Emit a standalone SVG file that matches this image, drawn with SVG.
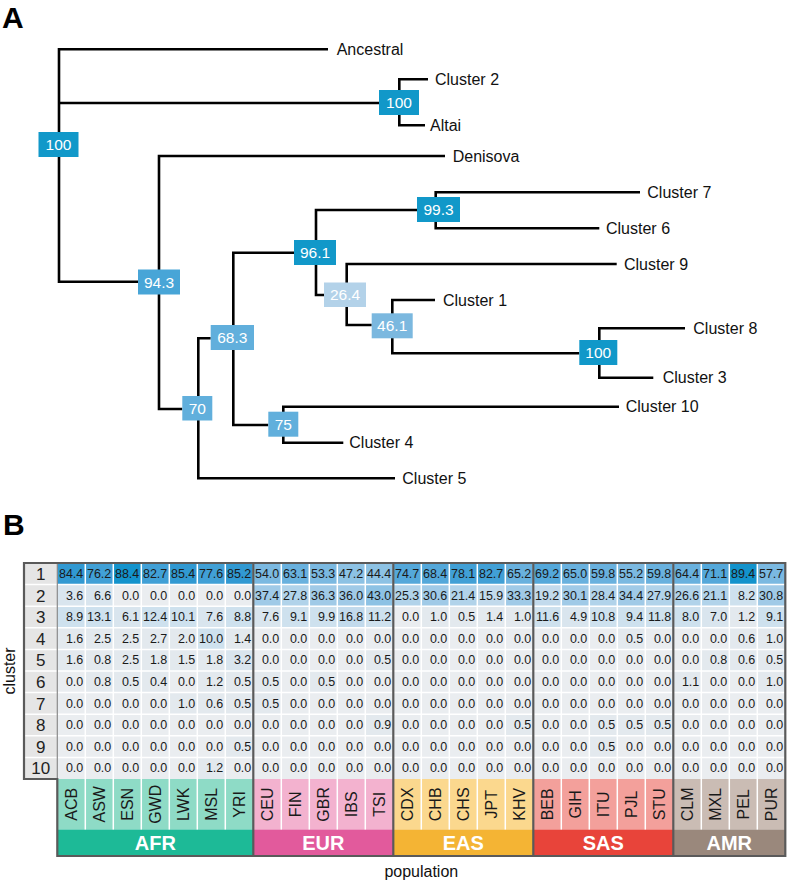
<svg xmlns="http://www.w3.org/2000/svg" width="788" height="882" viewBox="0 0 788 882">
<style>
text{font-family:"Liberation Sans",Arial,Helvetica,sans-serif;fill:#111}
.ln{stroke:#000;stroke-width:2.6;fill:none;stroke-linejoin:miter}
.leaf{font-size:16px}
.bx text{font-size:15.5px;fill:#fff;text-anchor:middle}
.dk{fill:#1198c9}.m1{fill:#48a5d7}.m2{fill:#61afdc}.m3{fill:#7bb8df}.lt{fill:#b3d2e9}
.panel{font-size:30px;font-weight:bold;fill:#000}
.c1{fill:#e3e9ee}.c2{fill:#d9e5ee}.c3{fill:#cee1ee}.c4{fill:#c2daec}.c5{fill:#b1d3ea}.c6{fill:#a0cae7}.c7{fill:#8dc2e4}.c8{fill:#7bb9e1}.c9{fill:#69b1de}.c10{fill:#54a8da}.c11{fill:#41a0d6}.c12{fill:#3199d2}.c13{fill:#1393cc}
.val{font-size:12.5px;text-anchor:end;fill:#1a1a1a}
.rl{font-size:17px;text-anchor:middle;fill:#222}
.grid{stroke:#fff;stroke-width:1.5}
.pop{font-size:16px;text-anchor:middle;fill:#1a1a1a}
.grp{font-size:20px;font-weight:bold;fill:#fff;text-anchor:middle}
.bd{stroke:#5a5a5a;stroke-width:2.2;fill:none}
.axis{font-size:16px;text-anchor:middle;fill:#111}
</style>

<text class="panel" x="2" y="28">A</text>
<text class="panel" x="3" y="535">B</text>

<g id="connectors">
<path class="ln" d="M328,49.3 H59 V281.7 H138"/>
<path class="ln" d="M59,103 H379"/>
<path class="ln" d="M428,79.3 H399.3 V125.3 H425"/>
<path class="ln" d="M445,156 H159 V409 H182.3"/>
<path class="ln" d="M395,478.3 H198.3 V338.3 H210.7"/>
<path class="ln" d="M294,252.7 H233.3 V425 H268.3"/>
<path class="ln" d="M619,406.7 H283.3 V442.7 H343.3"/>
<path class="ln" d="M417.3,210 H316 V295 H324"/>
<path class="ln" d="M640,192.3 H435.7 V228.3 H599.3"/>
<path class="ln" d="M616.7,264 H346.7 V325 H371.7"/>
<path class="ln" d="M435,300 H392.3 V353.3 H579.3"/>
<path class="ln" d="M685,328.3 H599.3 V377.7 H653.3"/>
</g>

<g id="node-root" class="bx"><rect class="dk" x="38.5" y="132" width="40" height="25"/><text x="58.5" y="150">100</text></g>
<g id="node-neand" class="bx"><rect class="dk" x="379" y="90" width="40" height="25"/><text x="399" y="108">100</text></g>
<g id="node-94" class="bx"><rect class="m1" x="138" y="269.5" width="42" height="25"/><text x="159" y="287.5">94.3</text></g>
<g id="node-99" class="bx"><rect class="dk" x="417" y="197" width="43" height="25"/><text x="438.5" y="215">99.3</text></g>
<g id="node-96" class="bx"><rect class="dk" x="294" y="240" width="42" height="25"/><text x="315" y="258">96.1</text></g>
<g id="node-26" class="bx"><rect class="lt" x="324" y="282.5" width="42" height="24.5"/><text x="345" y="300.3">26.4</text></g>
<g id="node-46" class="bx"><rect class="m3" x="371.7" y="313.3" width="41" height="25"/><text x="392.2" y="331.3">46.1</text></g>
<g id="node-68" class="bx"><rect class="m2" x="210.7" y="325" width="43.3" height="25"/><text x="232.3" y="343">68.3</text></g>
<g id="node-70" class="bx"><rect class="m2" x="182.3" y="396" width="30" height="24.5"/><text x="197.3" y="413.8">70</text></g>
<g id="node-75" class="bx"><rect class="m2" x="268.3" y="411.7" width="30" height="25"/><text x="283.3" y="429.7">75</text></g>
<g id="node-100b" class="bx"><rect class="dk" x="579.3" y="340" width="38" height="25"/><text x="598.3" y="358">100</text></g>

<g id="leaf-ancestral"><text class="leaf" x="336.7" y="55">Ancestral</text></g>
<g id="leaf-c2"><text class="leaf" x="435" y="85">Cluster 2</text></g>
<g id="leaf-altai"><text class="leaf" x="430" y="131">Altai</text></g>
<g id="leaf-denisova"><text class="leaf" x="452.7" y="161.7">Denisova</text></g>
<g id="leaf-c7"><text class="leaf" x="647.3" y="198">Cluster 7</text></g>
<g id="leaf-c6"><text class="leaf" x="606" y="234">Cluster 6</text></g>
<g id="leaf-c9"><text class="leaf" x="624" y="269.7">Cluster 9</text></g>
<g id="leaf-c1"><text class="leaf" x="443" y="305.7">Cluster 1</text></g>
<g id="leaf-c8"><text class="leaf" x="693.3" y="334">Cluster 8</text></g>
<g id="leaf-c3"><text class="leaf" x="662.7" y="383.4">Cluster 3</text></g>
<g id="leaf-c10"><text class="leaf" x="625.7" y="412.4">Cluster 10</text></g>
<g id="leaf-c4"><text class="leaf" x="349.3" y="448.4">Cluster 4</text></g>
<g id="leaf-c5"><text class="leaf" x="402.3" y="484">Cluster 5</text></g>

<!-- Panel B -->
<g id="row-labels">
<rect x="24" y="563" width="33.3" height="216" fill="#e5e5e5"/>
<path class="grid" d="M24,584.6H57.3M24,606.2H57.3M24,627.8H57.3M24,649.4H57.3M24,671H57.3M24,692.6H57.3M24,714.2H57.3M24,735.8H57.3M24,757.4H57.3"/>
<text class="rl" x="40.7" y="579.9">1</text>
<text class="rl" x="40.7" y="601.5">2</text>
<text class="rl" x="40.7" y="623.1">3</text>
<text class="rl" x="40.7" y="644.7">4</text>
<text class="rl" x="40.7" y="666.3">5</text>
<text class="rl" x="40.7" y="687.9">6</text>
<text class="rl" x="40.7" y="709.5">7</text>
<text class="rl" x="40.7" y="731.1">8</text>
<text class="rl" x="40.7" y="752.7">9</text>
<text class="rl" x="40.7" y="774.3">10</text>
</g>

<g id="heatmap" transform="translate(57.3,563)">
<rect x="0" y="0" width="728" height="216" fill="#eaedf0"/>
<g>
<rect class="c12" x="0" y="0" width="28" height="21.6"/><rect class="c11" x="28" y="0" width="28" height="21.6"/><rect class="c13" x="56" y="0" width="28" height="21.6"/><rect class="c11" x="84" y="0" width="28" height="21.6"/><rect class="c12" x="112" y="0" width="28" height="21.6"/><rect class="c11" x="140" y="0" width="28" height="21.6"/><rect class="c12" x="168" y="0" width="28" height="21.6"/><rect class="c8" x="196" y="0" width="28" height="21.6"/><rect class="c9" x="224" y="0" width="28" height="21.6"/><rect class="c8" x="252" y="0" width="28" height="21.6"/><rect class="c7" x="280" y="0" width="28" height="21.6"/><rect class="c7" x="308" y="0" width="28" height="21.6"/><rect class="c10" x="336" y="0" width="28" height="21.6"/><rect class="c10" x="364" y="0" width="28" height="21.6"/><rect class="c11" x="392" y="0" width="28" height="21.6"/><rect class="c11" x="420" y="0" width="28" height="21.6"/><rect class="c9" x="448" y="0" width="28" height="21.6"/><rect class="c10" x="476" y="0" width="28" height="21.6"/><rect class="c9" x="504" y="0" width="28" height="21.6"/><rect class="c9" x="532" y="0" width="28" height="21.6"/><rect class="c8" x="560" y="0" width="28" height="21.6"/><rect class="c9" x="588" y="0" width="28" height="21.6"/><rect class="c9" x="616" y="0" width="28" height="21.6"/><rect class="c10" x="644" y="0" width="28" height="21.6"/><rect class="c13" x="672" y="0" width="28" height="21.6"/><rect class="c8" x="700" y="0" width="28" height="21.6"/>
</g>
<g transform="translate(0,21.6)">
<rect class="c2" x="0" y="0" width="28" height="21.6"/><rect class="c2" x="28" y="0" width="28" height="21.6"/><rect class="c6" x="196" y="0" width="28" height="21.6"/><rect class="c5" x="224" y="0" width="28" height="21.6"/><rect class="c6" x="252" y="0" width="28" height="21.6"/><rect class="c6" x="280" y="0" width="28" height="21.6"/><rect class="c7" x="308" y="0" width="28" height="21.6"/><rect class="c5" x="336" y="0" width="28" height="21.6"/><rect class="c6" x="364" y="0" width="28" height="21.6"/><rect class="c5" x="392" y="0" width="28" height="21.6"/><rect class="c4" x="420" y="0" width="28" height="21.6"/><rect class="c6" x="448" y="0" width="28" height="21.6"/><rect class="c4" x="476" y="0" width="28" height="21.6"/><rect class="c6" x="504" y="0" width="28" height="21.6"/><rect class="c5" x="532" y="0" width="28" height="21.6"/><rect class="c6" x="560" y="0" width="28" height="21.6"/><rect class="c5" x="588" y="0" width="28" height="21.6"/><rect class="c5" x="616" y="0" width="28" height="21.6"/><rect class="c5" x="644" y="0" width="28" height="21.6"/><rect class="c3" x="672" y="0" width="28" height="21.6"/><rect class="c6" x="700" y="0" width="28" height="21.6"/>
</g>
<g transform="translate(0,43.2)">
<rect class="c3" x="0" y="0" width="28" height="21.6"/><rect class="c3" x="28" y="0" width="28" height="21.6"/><rect class="c2" x="56" y="0" width="28" height="21.6"/><rect class="c3" x="84" y="0" width="28" height="21.6"/><rect class="c3" x="112" y="0" width="28" height="21.6"/><rect class="c2" x="140" y="0" width="28" height="21.6"/><rect class="c3" x="168" y="0" width="28" height="21.6"/><rect class="c2" x="196" y="0" width="28" height="21.6"/><rect class="c3" x="224" y="0" width="28" height="21.6"/><rect class="c3" x="252" y="0" width="28" height="21.6"/><rect class="c4" x="280" y="0" width="28" height="21.6"/><rect class="c3" x="308" y="0" width="28" height="21.6"/><rect class="c1" x="364" y="0" width="28" height="21.6"/><rect class="c1" x="392" y="0" width="28" height="21.6"/><rect class="c1" x="420" y="0" width="28" height="21.6"/><rect class="c1" x="448" y="0" width="28" height="21.6"/><rect class="c3" x="476" y="0" width="28" height="21.6"/><rect class="c2" x="504" y="0" width="28" height="21.6"/><rect class="c3" x="532" y="0" width="28" height="21.6"/><rect class="c3" x="560" y="0" width="28" height="21.6"/><rect class="c3" x="588" y="0" width="28" height="21.6"/><rect class="c3" x="616" y="0" width="28" height="21.6"/><rect class="c2" x="644" y="0" width="28" height="21.6"/><rect class="c1" x="672" y="0" width="28" height="21.6"/><rect class="c3" x="700" y="0" width="28" height="21.6"/>
</g>
<g transform="translate(0,64.8)">
<rect class="c1" x="0" y="0" width="140" height="21.6"/><rect class="c3" x="140" y="0" width="28" height="21.6"/><rect class="c1" x="168" y="0" width="28" height="21.6"/><rect class="c1" x="560" y="0" width="28" height="21.6"/><rect class="c1" x="672" y="0" width="56" height="21.6"/>
</g>
<g transform="translate(0,86.4)">
<rect class="c1" x="0" y="0" width="168" height="21.6"/><rect class="c2" x="168" y="0" width="28" height="21.6"/><rect class="c1" x="308" y="0" width="28" height="21.6"/><rect class="c1" x="644" y="0" width="84" height="21.6"/>
</g>
<g transform="translate(0,108)">
<rect class="c1" x="28" y="0" width="84" height="21.6"/><rect class="c1" x="140" y="0" width="84" height="21.6"/><rect class="c1" x="252" y="0" width="28" height="21.6"/><rect class="c1" x="616" y="0" width="28" height="21.6"/><rect class="c1" x="700" y="0" width="28" height="21.6"/>
</g>
<g transform="translate(0,129.6)">
<rect class="c1" x="112" y="0" width="112" height="21.6"/>
</g>
<g transform="translate(0,151.2)">
<rect class="c1" x="308" y="0" width="28" height="21.6"/><rect class="c1" x="448" y="0" width="28" height="21.6"/><rect class="c1" x="532" y="0" width="84" height="21.6"/>
</g>
<g transform="translate(0,172.8)">
<rect class="c1" x="168" y="0" width="28" height="21.6"/><rect class="c1" x="532" y="0" width="28" height="21.6"/>
</g>
<g transform="translate(0,194.4)">
<rect class="c1" x="140" y="0" width="28" height="21.6"/>
</g>
<path class="grid" d="M28,0V216M56,0V216M84,0V216M112,0V216M140,0V216M168,0V216M196,0V216M224,0V216M252,0V216M280,0V216M308,0V216M336,0V216M364,0V216M392,0V216M420,0V216M448,0V216M476,0V216M504,0V216M532,0V216M560,0V216M588,0V216M616,0V216M644,0V216M672,0V216M700,0V216M0,21.6H728M0,43.2H728M0,64.8H728M0,86.4H728M0,108H728M0,129.6H728M0,151.2H728M0,172.8H728M0,194.4H728"/>

<text class="val" y="15"><tspan x="26">84.4</tspan><tspan x="54">76.2</tspan><tspan x="82">88.4</tspan><tspan x="110">82.7</tspan><tspan x="138">85.4</tspan><tspan x="166">77.6</tspan><tspan x="194">85.2</tspan><tspan x="222">54.0</tspan><tspan x="250">63.1</tspan><tspan x="278">53.3</tspan><tspan x="306">47.2</tspan><tspan x="334">44.4</tspan><tspan x="362">74.7</tspan><tspan x="390">68.4</tspan><tspan x="418">78.1</tspan><tspan x="446">82.7</tspan><tspan x="474">65.2</tspan><tspan x="502">69.2</tspan><tspan x="530">65.0</tspan><tspan x="558">59.8</tspan><tspan x="586">55.2</tspan><tspan x="614">59.8</tspan><tspan x="642">64.4</tspan><tspan x="670">71.1</tspan><tspan x="698">89.4</tspan><tspan x="726">57.7</tspan></text>
<text class="val" y="36.6"><tspan x="26">3.6</tspan><tspan x="54">6.6</tspan><tspan x="82">0.0</tspan><tspan x="110">0.0</tspan><tspan x="138">0.0</tspan><tspan x="166">0.0</tspan><tspan x="194">0.0</tspan><tspan x="222">37.4</tspan><tspan x="250">27.8</tspan><tspan x="278">36.3</tspan><tspan x="306">36.0</tspan><tspan x="334">43.0</tspan><tspan x="362">25.3</tspan><tspan x="390">30.6</tspan><tspan x="418">21.4</tspan><tspan x="446">15.9</tspan><tspan x="474">33.3</tspan><tspan x="502">19.2</tspan><tspan x="530">30.1</tspan><tspan x="558">28.4</tspan><tspan x="586">34.4</tspan><tspan x="614">27.9</tspan><tspan x="642">26.6</tspan><tspan x="670">21.1</tspan><tspan x="698">8.2</tspan><tspan x="726">30.8</tspan></text>
<text class="val" y="58.2"><tspan x="26">8.9</tspan><tspan x="54">13.1</tspan><tspan x="82">6.1</tspan><tspan x="110">12.4</tspan><tspan x="138">10.1</tspan><tspan x="166">7.6</tspan><tspan x="194">8.8</tspan><tspan x="222">7.6</tspan><tspan x="250">9.1</tspan><tspan x="278">9.9</tspan><tspan x="306">16.8</tspan><tspan x="334">11.2</tspan><tspan x="362">0.0</tspan><tspan x="390">1.0</tspan><tspan x="418">0.5</tspan><tspan x="446">1.4</tspan><tspan x="474">1.0</tspan><tspan x="502">11.6</tspan><tspan x="530">4.9</tspan><tspan x="558">10.8</tspan><tspan x="586">9.4</tspan><tspan x="614">11.8</tspan><tspan x="642">8.0</tspan><tspan x="670">7.0</tspan><tspan x="698">1.2</tspan><tspan x="726">9.1</tspan></text>
<text class="val" y="79.8"><tspan x="26">1.6</tspan><tspan x="54">2.5</tspan><tspan x="82">2.5</tspan><tspan x="110">2.7</tspan><tspan x="138">2.0</tspan><tspan x="166">10.0</tspan><tspan x="194">1.4</tspan><tspan x="222">0.0</tspan><tspan x="250">0.0</tspan><tspan x="278">0.0</tspan><tspan x="306">0.0</tspan><tspan x="334">0.0</tspan><tspan x="362">0.0</tspan><tspan x="390">0.0</tspan><tspan x="418">0.0</tspan><tspan x="446">0.0</tspan><tspan x="474">0.0</tspan><tspan x="502">0.0</tspan><tspan x="530">0.0</tspan><tspan x="558">0.0</tspan><tspan x="586">0.5</tspan><tspan x="614">0.0</tspan><tspan x="642">0.0</tspan><tspan x="670">0.0</tspan><tspan x="698">0.6</tspan><tspan x="726">1.0</tspan></text>
<text class="val" y="101.4"><tspan x="26">1.6</tspan><tspan x="54">0.8</tspan><tspan x="82">2.5</tspan><tspan x="110">1.8</tspan><tspan x="138">1.5</tspan><tspan x="166">1.8</tspan><tspan x="194">3.2</tspan><tspan x="222">0.0</tspan><tspan x="250">0.0</tspan><tspan x="278">0.0</tspan><tspan x="306">0.0</tspan><tspan x="334">0.5</tspan><tspan x="362">0.0</tspan><tspan x="390">0.0</tspan><tspan x="418">0.0</tspan><tspan x="446">0.0</tspan><tspan x="474">0.0</tspan><tspan x="502">0.0</tspan><tspan x="530">0.0</tspan><tspan x="558">0.0</tspan><tspan x="586">0.0</tspan><tspan x="614">0.0</tspan><tspan x="642">0.0</tspan><tspan x="670">0.8</tspan><tspan x="698">0.6</tspan><tspan x="726">0.5</tspan></text>
<text class="val" y="123"><tspan x="26">0.0</tspan><tspan x="54">0.8</tspan><tspan x="82">0.5</tspan><tspan x="110">0.4</tspan><tspan x="138">0.0</tspan><tspan x="166">1.2</tspan><tspan x="194">0.5</tspan><tspan x="222">0.5</tspan><tspan x="250">0.0</tspan><tspan x="278">0.5</tspan><tspan x="306">0.0</tspan><tspan x="334">0.0</tspan><tspan x="362">0.0</tspan><tspan x="390">0.0</tspan><tspan x="418">0.0</tspan><tspan x="446">0.0</tspan><tspan x="474">0.0</tspan><tspan x="502">0.0</tspan><tspan x="530">0.0</tspan><tspan x="558">0.0</tspan><tspan x="586">0.0</tspan><tspan x="614">0.0</tspan><tspan x="642">1.1</tspan><tspan x="670">0.0</tspan><tspan x="698">0.0</tspan><tspan x="726">1.0</tspan></text>
<text class="val" y="144.6"><tspan x="26">0.0</tspan><tspan x="54">0.0</tspan><tspan x="82">0.0</tspan><tspan x="110">0.0</tspan><tspan x="138">1.0</tspan><tspan x="166">0.6</tspan><tspan x="194">0.5</tspan><tspan x="222">0.5</tspan><tspan x="250">0.0</tspan><tspan x="278">0.0</tspan><tspan x="306">0.0</tspan><tspan x="334">0.0</tspan><tspan x="362">0.0</tspan><tspan x="390">0.0</tspan><tspan x="418">0.0</tspan><tspan x="446">0.0</tspan><tspan x="474">0.0</tspan><tspan x="502">0.0</tspan><tspan x="530">0.0</tspan><tspan x="558">0.0</tspan><tspan x="586">0.0</tspan><tspan x="614">0.0</tspan><tspan x="642">0.0</tspan><tspan x="670">0.0</tspan><tspan x="698">0.0</tspan><tspan x="726">0.0</tspan></text>
<text class="val" y="166.2"><tspan x="26">0.0</tspan><tspan x="54">0.0</tspan><tspan x="82">0.0</tspan><tspan x="110">0.0</tspan><tspan x="138">0.0</tspan><tspan x="166">0.0</tspan><tspan x="194">0.0</tspan><tspan x="222">0.0</tspan><tspan x="250">0.0</tspan><tspan x="278">0.0</tspan><tspan x="306">0.0</tspan><tspan x="334">0.9</tspan><tspan x="362">0.0</tspan><tspan x="390">0.0</tspan><tspan x="418">0.0</tspan><tspan x="446">0.0</tspan><tspan x="474">0.5</tspan><tspan x="502">0.0</tspan><tspan x="530">0.0</tspan><tspan x="558">0.5</tspan><tspan x="586">0.5</tspan><tspan x="614">0.5</tspan><tspan x="642">0.0</tspan><tspan x="670">0.0</tspan><tspan x="698">0.0</tspan><tspan x="726">0.0</tspan></text>
<text class="val" y="187.8"><tspan x="26">0.0</tspan><tspan x="54">0.0</tspan><tspan x="82">0.0</tspan><tspan x="110">0.0</tspan><tspan x="138">0.0</tspan><tspan x="166">0.0</tspan><tspan x="194">0.5</tspan><tspan x="222">0.0</tspan><tspan x="250">0.0</tspan><tspan x="278">0.0</tspan><tspan x="306">0.0</tspan><tspan x="334">0.0</tspan><tspan x="362">0.0</tspan><tspan x="390">0.0</tspan><tspan x="418">0.0</tspan><tspan x="446">0.0</tspan><tspan x="474">0.0</tspan><tspan x="502">0.0</tspan><tspan x="530">0.0</tspan><tspan x="558">0.5</tspan><tspan x="586">0.0</tspan><tspan x="614">0.0</tspan><tspan x="642">0.0</tspan><tspan x="670">0.0</tspan><tspan x="698">0.0</tspan><tspan x="726">0.0</tspan></text>
<text class="val" y="209.4"><tspan x="26">0.0</tspan><tspan x="54">0.0</tspan><tspan x="82">0.0</tspan><tspan x="110">0.0</tspan><tspan x="138">0.0</tspan><tspan x="166">1.2</tspan><tspan x="194">0.0</tspan><tspan x="222">0.0</tspan><tspan x="250">0.0</tspan><tspan x="278">0.0</tspan><tspan x="306">0.0</tspan><tspan x="334">0.0</tspan><tspan x="362">0.0</tspan><tspan x="390">0.0</tspan><tspan x="418">0.0</tspan><tspan x="446">0.0</tspan><tspan x="474">0.0</tspan><tspan x="502">0.0</tspan><tspan x="530">0.0</tspan><tspan x="558">0.0</tspan><tspan x="586">0.0</tspan><tspan x="614">0.0</tspan><tspan x="642">0.0</tspan><tspan x="670">0.0</tspan><tspan x="698">0.0</tspan><tspan x="726">0.0</tspan></text>

<!-- population labels -->
<g id="grp-AFR">
<rect x="0" y="216" width="196" height="50.5" fill="#8edbc6"/>
<rect x="0" y="266.5" width="196" height="26.5" fill="#1dba97"/>
<text class="grp" x="98" y="287">AFR</text>
</g>
<g id="grp-EUR">
<rect x="196" y="216" width="140" height="50.5" fill="#f3b2cf"/>
<rect x="196" y="266.5" width="140" height="26.5" fill="#e25a9c"/>
<text class="grp" x="266" y="287">EUR</text>
</g>
<g id="grp-EAS">
<rect x="336" y="216" width="140" height="50.5" fill="#fbd88e"/>
<rect x="336" y="266.5" width="140" height="26.5" fill="#f4b434"/>
<text class="grp" x="406" y="287">EAS</text>
</g>
<g id="grp-SAS">
<rect x="476" y="216" width="140" height="50.5" fill="#f3a09b"/>
<rect x="476" y="266.5" width="140" height="26.5" fill="#e8443a"/>
<text class="grp" x="546" y="287">SAS</text>
</g>
<g id="grp-AMR">
<rect x="616" y="216" width="112" height="50.5" fill="#cabcb4"/>
<rect x="616" y="266.5" width="112" height="26.5" fill="#9a887c"/>
<text class="grp" x="672" y="287">AMR</text>
</g>
<path class="grid" d="M28,216V266.5M56,216V266.5M84,216V266.5M112,216V266.5M140,216V266.5M168,216V266.5M224,216V266.5M252,216V266.5M280,216V266.5M308,216V266.5M364,216V266.5M392,216V266.5M420,216V266.5M448,216V266.5M504,216V266.5M532,216V266.5M560,216V266.5M588,216V266.5M644,216V266.5M672,216V266.5M700,216V266.5"/>
<g id="pop-labels">
<text class="pop" transform="translate(14,241.3) rotate(-90)" y="5.7">ACB</text>
<text class="pop" transform="translate(42,241.3) rotate(-90)" y="5.7">ASW</text>
<text class="pop" transform="translate(70,241.3) rotate(-90)" y="5.7">ESN</text>
<text class="pop" transform="translate(98,241.3) rotate(-90)" y="5.7">GWD</text>
<text class="pop" transform="translate(126,241.3) rotate(-90)" y="5.7">LWK</text>
<text class="pop" transform="translate(154,241.3) rotate(-90)" y="5.7">MSL</text>
<text class="pop" transform="translate(182,241.3) rotate(-90)" y="5.7">YRI</text>
<text class="pop" transform="translate(210,241.3) rotate(-90)" y="5.7">CEU</text>
<text class="pop" transform="translate(238,241.3) rotate(-90)" y="5.7">FIN</text>
<text class="pop" transform="translate(266,241.3) rotate(-90)" y="5.7">GBR</text>
<text class="pop" transform="translate(294,241.3) rotate(-90)" y="5.7">IBS</text>
<text class="pop" transform="translate(322,241.3) rotate(-90)" y="5.7">TSI</text>
<text class="pop" transform="translate(350,241.3) rotate(-90)" y="5.7">CDX</text>
<text class="pop" transform="translate(378,241.3) rotate(-90)" y="5.7">CHB</text>
<text class="pop" transform="translate(406,241.3) rotate(-90)" y="5.7">CHS</text>
<text class="pop" transform="translate(434,241.3) rotate(-90)" y="5.7">JPT</text>
<text class="pop" transform="translate(462,241.3) rotate(-90)" y="5.7">KHV</text>
<text class="pop" transform="translate(490,241.3) rotate(-90)" y="5.7">BEB</text>
<text class="pop" transform="translate(518,241.3) rotate(-90)" y="5.7">GIH</text>
<text class="pop" transform="translate(546,241.3) rotate(-90)" y="5.7">ITU</text>
<text class="pop" transform="translate(574,241.3) rotate(-90)" y="5.7">PJL</text>
<text class="pop" transform="translate(602,241.3) rotate(-90)" y="5.7">STU</text>
<text class="pop" transform="translate(630,241.3) rotate(-90)" y="5.7">CLM</text>
<text class="pop" transform="translate(658,241.3) rotate(-90)" y="5.7">MXL</text>
<text class="pop" transform="translate(686,241.3) rotate(-90)" y="5.7">PEL</text>
<text class="pop" transform="translate(714,241.3) rotate(-90)" y="5.7">PUR</text>
</g>
</g>

<g id="table-borders">
<path d="M57.3,563V779" stroke="#8a8a8a" stroke-width="1.2" fill="none"/>
<path class="bd" d="M24,563H785.3V856H57.3V779H24Z"/>
<path class="bd" d="M253.3,563V856M393.3,563V856M533.3,563V856M673.3,563V856"/>
</g>

<text class="axis" transform="translate(15,671) rotate(-90)">cluster</text>
<text class="axis" x="421.3" y="877">population</text>
</svg>
